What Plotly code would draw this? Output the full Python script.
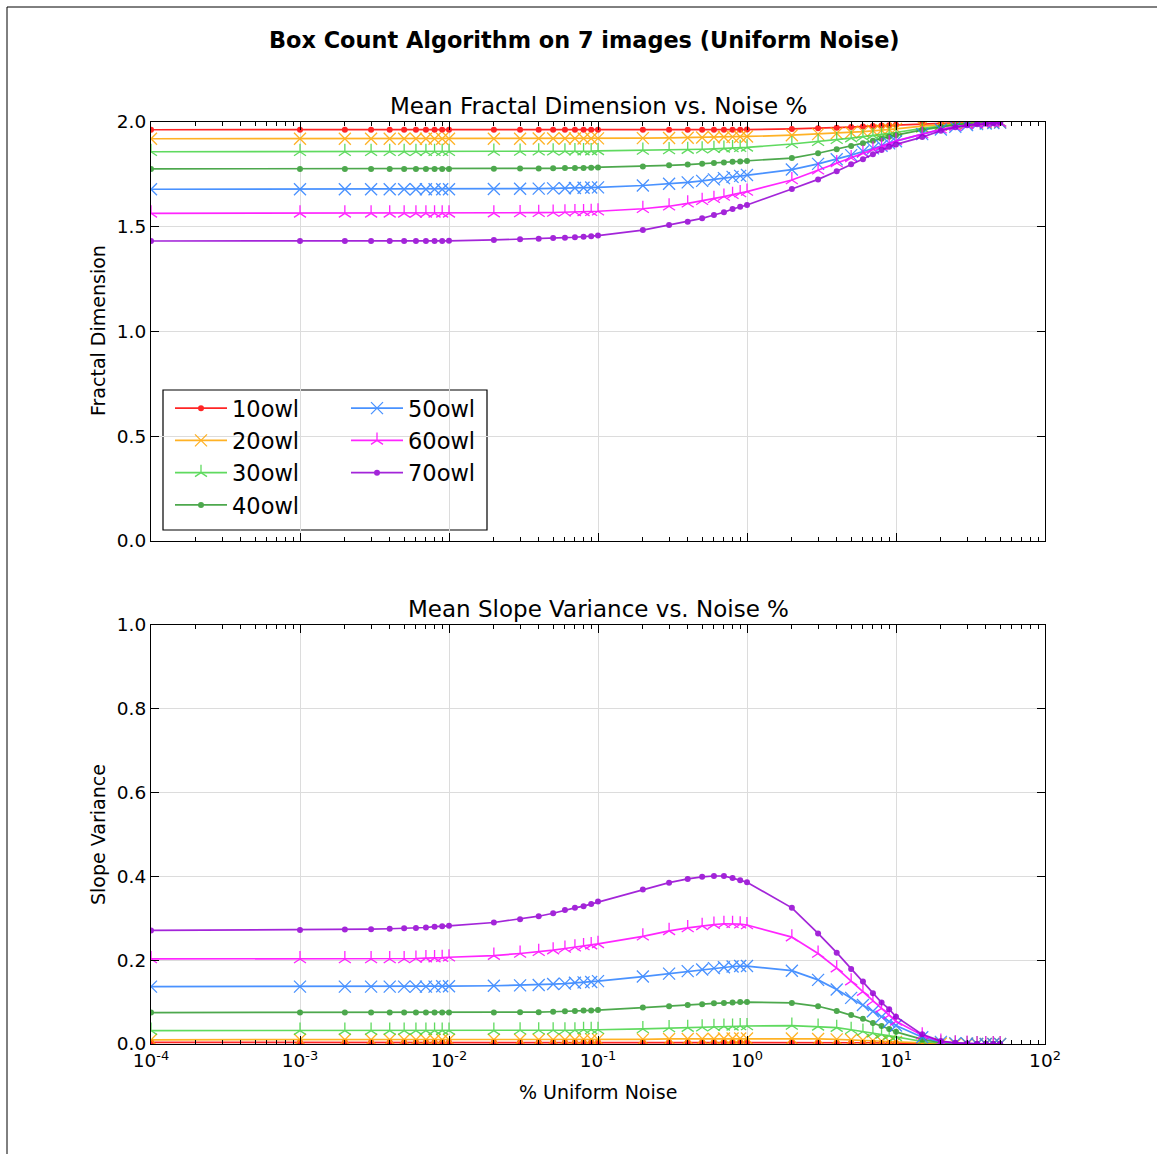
import plotly.graph_objects as go

# ---------------- data ----------------
noise_pct = [0.0001,
             0.001, 0.002, 0.003, 0.004, 0.005, 0.006, 0.007, 0.008, 0.009,
             0.01, 0.02, 0.03, 0.04, 0.05, 0.06, 0.07, 0.08, 0.09,
             0.1, 0.2, 0.3, 0.4, 0.5, 0.6, 0.7, 0.8, 0.9,
             1, 2, 3, 4, 5, 6, 7, 8, 9,
             10, 15, 20, 25, 30, 35, 40, 45, 50]

series_names = ["10owl", "20owl", "30owl", "40owl", "50owl", "60owl", "70owl"]

fd_10owl = [1.963,
            1.963, 1.963, 1.963, 1.963, 1.963, 1.963, 1.963, 1.963, 1.963,
            1.963, 1.963, 1.963, 1.963, 1.963, 1.963, 1.963, 1.963, 1.963,
            1.963, 1.963, 1.963, 1.963, 1.963, 1.963, 1.963, 1.963, 1.963,
            1.964, 1.967, 1.970, 1.973, 1.976, 1.979, 1.981, 1.983, 1.985,
            1.987, 1.992, 1.995, 1.997, 1.998, 1.999, 1.999, 1.999, 2.000]
fd_20owl = [1.920,
            1.920, 1.920, 1.920, 1.920, 1.920, 1.920, 1.920, 1.920, 1.920,
            1.920, 1.920, 1.920, 1.921, 1.921, 1.921, 1.921, 1.921, 1.921,
            1.922, 1.923, 1.924, 1.925, 1.926, 1.927, 1.928, 1.929, 1.930,
            1.931, 1.937, 1.942, 1.946, 1.950, 1.954, 1.958, 1.961, 1.964,
            1.967, 1.980, 1.988, 1.993, 1.996, 1.997, 1.998, 1.999, 1.999]
fd_30owl = [1.858,
            1.858, 1.858, 1.858, 1.858, 1.858, 1.858, 1.858, 1.858, 1.858,
            1.858, 1.859, 1.859, 1.860, 1.860, 1.860, 1.861, 1.861, 1.861,
            1.862, 1.864, 1.866, 1.868, 1.870, 1.872, 1.874, 1.876, 1.877,
            1.879, 1.895, 1.906, 1.915, 1.923, 1.930, 1.936, 1.941, 1.946,
            1.950, 1.970, 1.982, 1.989, 1.993, 1.996, 1.997, 1.998, 1.999]
fd_40owl = [1.776,
            1.776, 1.776, 1.776, 1.776, 1.776, 1.776, 1.776, 1.776, 1.776,
            1.776, 1.777, 1.778, 1.778, 1.779, 1.780, 1.781, 1.781, 1.782,
            1.783, 1.788, 1.793, 1.797, 1.801, 1.804, 1.807, 1.810, 1.812,
            1.814, 1.828, 1.851, 1.870, 1.886, 1.898, 1.910, 1.920, 1.929,
            1.937, 1.962, 1.977, 1.986, 1.991, 1.994, 1.996, 1.997, 1.998]
fd_50owl = [1.679,
            1.679, 1.679, 1.679, 1.679, 1.679, 1.679, 1.679, 1.679, 1.679,
            1.679, 1.680, 1.681, 1.682, 1.683, 1.684, 1.685, 1.686, 1.687,
            1.688, 1.697, 1.705, 1.712, 1.719, 1.726, 1.732, 1.738, 1.743,
            1.747, 1.773, 1.800, 1.822, 1.842, 1.859, 1.874, 1.887, 1.898,
            1.908, 1.942, 1.964, 1.977, 1.985, 1.990, 1.993, 1.995, 1.997]
fd_60owl = [1.564,
            1.564, 1.564, 1.564, 1.564, 1.564, 1.564, 1.564, 1.564, 1.564,
            1.564, 1.565, 1.566, 1.567, 1.568, 1.569, 1.570, 1.571, 1.572,
            1.574, 1.586, 1.598, 1.612, 1.624, 1.634, 1.644, 1.653, 1.661,
            1.668, 1.723, 1.770, 1.804, 1.828, 1.851, 1.870, 1.885, 1.898,
            1.910, 1.942, 1.965, 1.978, 1.986, 1.991, 1.994, 1.996, 1.997]
fd_70owl = [1.432,
            1.432, 1.432, 1.432, 1.432, 1.432, 1.432, 1.432, 1.432, 1.432,
            1.433, 1.437, 1.440, 1.443, 1.446, 1.448, 1.450, 1.452, 1.455,
            1.458, 1.484, 1.508, 1.524, 1.540, 1.556, 1.569, 1.585, 1.596,
            1.604, 1.680, 1.726, 1.765, 1.798, 1.822, 1.846, 1.866, 1.882,
            1.893, 1.928, 1.958, 1.975, 1.984, 1.989, 1.992, 1.994, 1.996]

sv_10owl = [0.004,
            0.004, 0.004, 0.004, 0.004, 0.004, 0.004, 0.004, 0.004, 0.004,
            0.004, 0.004, 0.004, 0.004, 0.004, 0.004, 0.004, 0.004, 0.004,
            0.004, 0.004, 0.004, 0.004, 0.004, 0.004, 0.004, 0.004, 0.004,
            0.004, 0.004, 0.004, 0.003, 0.003, 0.003, 0.003, 0.002, 0.002,
            0.002, 0.001, 0.000, 0.000, 0.000, 0.000, 0.000, 0.000, 0.000]
sv_20owl = [0.010,
            0.010, 0.010, 0.010, 0.010, 0.010, 0.010, 0.010, 0.010, 0.010,
            0.010, 0.010, 0.010, 0.010, 0.010, 0.010, 0.010, 0.011, 0.011,
            0.011, 0.011, 0.012, 0.012, 0.012, 0.012, 0.013, 0.013, 0.013,
            0.013, 0.013, 0.012, 0.011, 0.010, 0.009, 0.008, 0.007, 0.006,
            0.005, 0.002, 0.001, 0.000, 0.000, 0.000, 0.000, 0.000, 0.000]
sv_30owl = [0.032,
            0.032, 0.032, 0.032, 0.032, 0.032, 0.032, 0.032, 0.032, 0.032,
            0.032, 0.032, 0.033, 0.033, 0.033, 0.033, 0.033, 0.034, 0.034,
            0.034, 0.036, 0.038, 0.039, 0.040, 0.041, 0.042, 0.042, 0.043,
            0.043, 0.044, 0.042, 0.039, 0.034, 0.030, 0.026, 0.023, 0.020,
            0.017, 0.006, 0.002, 0.001, 0.000, 0.000, 0.000, 0.000, 0.000]
sv_40owl = [0.075,
            0.075, 0.075, 0.075, 0.075, 0.075, 0.075, 0.075, 0.075, 0.075,
            0.075, 0.075, 0.076, 0.076, 0.077, 0.078, 0.079, 0.080, 0.080,
            0.081, 0.087, 0.090, 0.093, 0.095, 0.097, 0.098, 0.099, 0.100,
            0.100, 0.098, 0.090, 0.079, 0.069, 0.060, 0.050, 0.043, 0.036,
            0.029, 0.011, 0.004, 0.002, 0.001, 0.000, 0.000, 0.000, 0.000]
sv_50owl = [0.137,
            0.137, 0.137, 0.137, 0.137, 0.137, 0.137, 0.137, 0.137, 0.138,
            0.138, 0.139, 0.140, 0.141, 0.143, 0.144, 0.146, 0.147, 0.148,
            0.150, 0.161, 0.168, 0.174, 0.178, 0.181, 0.183, 0.185, 0.186,
            0.186, 0.175, 0.153, 0.130, 0.110, 0.093, 0.078, 0.065, 0.053,
            0.044, 0.016, 0.005, 0.002, 0.001, 0.000, 0.000, 0.000, 0.000]
sv_60owl = [0.203,
            0.203, 0.203, 0.203, 0.203, 0.203, 0.204, 0.205, 0.205, 0.206,
            0.207, 0.211, 0.216, 0.220, 0.224, 0.228, 0.231, 0.234, 0.236,
            0.239, 0.257, 0.270, 0.277, 0.282, 0.285, 0.287, 0.287, 0.286,
            0.284, 0.255, 0.216, 0.181, 0.150, 0.125, 0.102, 0.085, 0.069,
            0.054, 0.021, 0.006, 0.002, 0.001, 0.000, 0.000, 0.000, 0.000]
sv_70owl = [0.271,
            0.272, 0.273, 0.274, 0.275, 0.276, 0.277, 0.278, 0.280, 0.281,
            0.282, 0.290, 0.298, 0.305, 0.312, 0.320, 0.325, 0.329, 0.334,
            0.340, 0.369, 0.385, 0.394, 0.399, 0.401, 0.401, 0.396, 0.391,
            0.386, 0.325, 0.264, 0.218, 0.179, 0.149, 0.121, 0.099, 0.083,
            0.065, 0.023, 0.007, 0.003, 0.001, 0.000, 0.000, 0.000, 0.000]

fd_values = [fd_10owl, fd_20owl, fd_30owl, fd_40owl, fd_50owl, fd_60owl, fd_70owl]
sv_values = [sv_10owl, sv_20owl, sv_30owl, sv_40owl, sv_50owl, sv_60owl, sv_70owl]

x_tickvals = [1e-4, 1e-3, 1e-2, 1e-1, 1, 10, 100]
x_ticktext = ["10<sup>-4</sup>", "10<sup>-3</sup>", "10<sup>-2</sup>", "10<sup>-1</sup>",
              "10<sup>0</sup>", "10<sup>1</sup>", "10<sup>2</sup>"]

# ---------------- styles ----------------
colors = ["#ff0000", "#ffa500", "#44d444", "#2e9a2e", "#2a7fff", "#ff00ff", "#9400d3"]
symbols = ["circle", "x-thin-open", "y-up-open", "circle", "x-thin-open", "y-up-open", "circle"]
sizes = [6, 12, 10, 6, 12, 10, 6]
legend_ids = ["legend", "legend", "legend", "legend", "legend2", "legend2", "legend2"]

FONT = "DejaVu Sans"
W, H = 1157, 1154
L, R, T, B = 151, 1045, 122, 1044   # plot-area pixel extents
pw, ph = R - L, B - T


def py(ypix):
    return (B - ypix) / ph


def px(xpix):
    return (xpix - L) / pw


fig = go.Figure()

for i, name in enumerate(series_names):
    is_line_sym = symbols[i] != "circle"
    marker = dict(symbol=symbols[i], size=sizes[i], color=colors[i],
                  line=dict(color=colors[i], width=1.3 if is_line_sym else 0))
    fig.add_trace(go.Scatter(x=noise_pct, y=fd_values[i], name=name, mode="lines+markers",
                             line=dict(color=colors[i], width=1.7), marker=marker,
                             opacity=0.85, xaxis="x", yaxis="y", legend=legend_ids[i]))
    fig.add_trace(go.Scatter(x=noise_pct, y=sv_values[i], name=name, mode="lines+markers",
                             line=dict(color=colors[i], width=1.7), marker=marker,
                             opacity=0.85, xaxis="x2", yaxis="y2", showlegend=False))

common_x = dict(type="log", range=[-4, 2], tickvals=x_tickvals, ticktext=x_ticktext,
                showline=True, linecolor="black", linewidth=1.2, mirror="ticks",
                ticks="inside", ticklen=8, tickcolor="black",
                showgrid=True, gridcolor="#dcdcdc", gridwidth=1, zeroline=False,
                minor=dict(ticks="inside", ticklen=4, tickcolor="black", showgrid=False,
                           tickvals=[d * 10 ** e for e in range(-4, 2) for d in range(2, 10)]),
                tickfont=dict(family=FONT, size=18.5, color="black"))

common_y = dict(showline=True, linecolor="black", linewidth=1.2, mirror="ticks",
                ticks="inside", ticklen=8, tickcolor="black",
                showgrid=True, gridcolor="#dcdcdc", gridwidth=1, zeroline=False,
                tickfont=dict(family=FONT, size=18.5, color="black"), tickformat=".1f")

dom_top = [py(541), 1.0]
dom_bot = [0.0, py(625)]

LEG_FONT = dict(family=FONT, size=22.5, color="black")

fig.update_layout(
    width=W, height=H,
    margin=dict(l=L, r=W - R, t=T, b=H - B),
    paper_bgcolor="white", plot_bgcolor="white",
    font=dict(family=FONT, color="black"),
    xaxis=dict(common_x, domain=[0, 1], anchor="y", showticklabels=False),
    yaxis=dict(common_y, domain=dom_top, range=[0, 2.0], tickvals=[0, 0.5, 1.0, 1.5, 2.0]),
    xaxis2=dict(common_x, domain=[0, 1], anchor="y2", matches="x"),
    yaxis2=dict(common_y, domain=dom_bot, range=[0, 1.0], tickvals=[0, 0.2, 0.4, 0.6, 0.8, 1.0]),
    legend=dict(x=px(170), y=py(387), xanchor="left", yanchor="top",
                bgcolor="rgba(0,0,0,0)", borderwidth=0, itemwidth=52,
                font=LEG_FONT, tracegroupgap=0),
    legend2=dict(x=px(346), y=py(387), xanchor="left", yanchor="top",
                 bgcolor="rgba(0,0,0,0)", borderwidth=0, itemwidth=52,
                 font=LEG_FONT, tracegroupgap=0),
    showlegend=True,
)

# legend frame
fig.add_shape(type="rect", xref="paper", yref="paper",
              x0=px(163), x1=px(487), y0=py(530), y1=py(390),
              line=dict(color="black", width=1.2), fillcolor="white", layer="below")

# image border lines (left and top)
fig.add_shape(type="line", xref="paper", yref="paper", x0=px(7), x1=px(7), y0=py(7), y1=py(H),
              line=dict(color="black", width=1))
fig.add_shape(type="line", xref="paper", yref="paper", x0=px(7), x1=px(W), y0=py(7), y1=py(7),
              line=dict(color="black", width=1))

# titles
fig.add_annotation(text="<b>Box Count Algorithm on 7 images (Uniform Noise)</b>",
                   xref="paper", yref="paper", x=px(584), y=py(40), showarrow=False,
                   xanchor="center", yanchor="middle", font=dict(family=FONT, size=22.4))
fig.add_annotation(text="Mean Fractal Dimension vs. Noise %", xref="paper", yref="paper",
                   x=px(598), y=py(106), showarrow=False, xanchor="center", yanchor="middle",
                   font=dict(family=FONT, size=23))
fig.add_annotation(text="Mean Slope Variance vs. Noise %", xref="paper", yref="paper",
                   x=px(598), y=py(609), showarrow=False, xanchor="center", yanchor="middle",
                   font=dict(family=FONT, size=23))
fig.add_annotation(text="Fractal Dimension", xref="paper", yref="paper",
                   x=px(98), y=py(331), showarrow=False, textangle=-90,
                   xanchor="center", yanchor="middle", font=dict(family=FONT, size=19))
fig.add_annotation(text="Slope Variance", xref="paper", yref="paper",
                   x=px(98), y=py(835), showarrow=False, textangle=-90,
                   xanchor="center", yanchor="middle", font=dict(family=FONT, size=19))
fig.add_annotation(text="% Uniform Noise", xref="paper", yref="paper",
                   x=px(598), y=py(1092), showarrow=False,
                   xanchor="center", yanchor="middle", font=dict(family=FONT, size=19))

fig.write_html("out.html", post_script="document.body.style.margin='0px';",
               config={"displayModeBar": False})
